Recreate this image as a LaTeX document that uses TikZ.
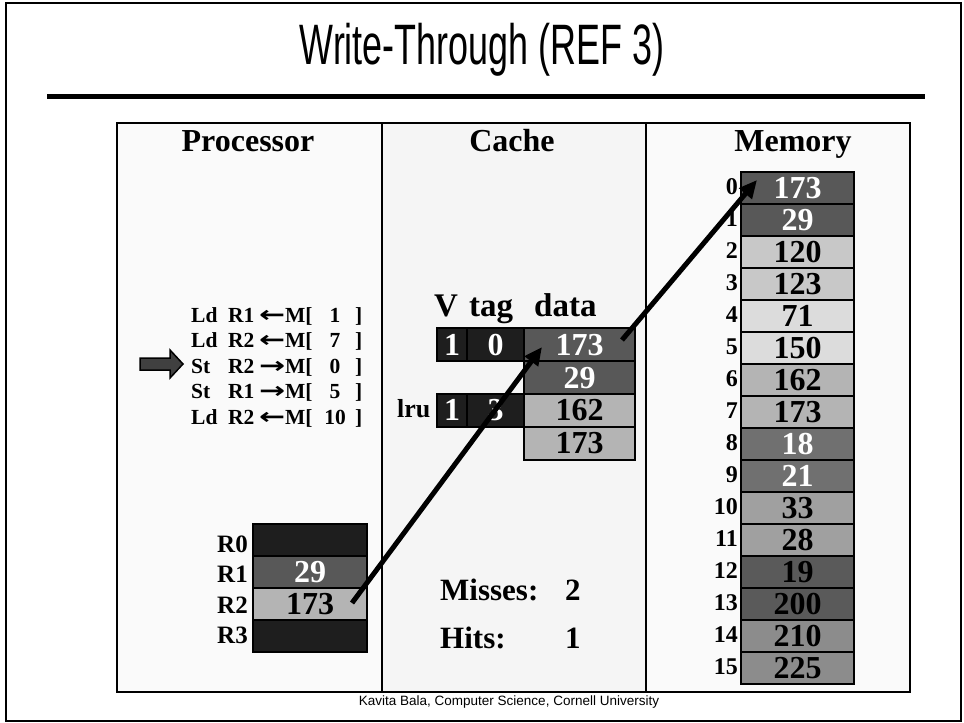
\documentclass[tikz,border=0pt]{standalone}
\usepackage{fontspec}
\setmainfont{Liberation Serif}
\newfontfamily\arialf{Liberation Sans}
\newfontfamily\symf{DejaVu Sans}
\usetikzlibrary{arrows.meta}

\definecolor{cellblack}{HTML}{1E1E1E}
\definecolor{celldark}{HTML}{585858}
\definecolor{cellmid}{HTML}{B4B4B4}
\definecolor{cellpale}{HTML}{C8C8C8}
\definecolor{celllight}{HTML}{DCDCDC}
\definecolor{cellslate}{HTML}{707070}
\definecolor{cellgrey}{HTML}{A0A0A0}
\definecolor{celldeep}{HTML}{5A5A5A}
\definecolor{cellsteel}{HTML}{8C8C8C}
\definecolor{arrowfill}{HTML}{404040}

\newcommand{\lar}{\scalebox{1.45}[1.05]{\symf\bfseries ←}}
\newcommand{\rar}{\scalebox{1.45}[1.05]{\symf\bfseries →}}

\tikzset{
  x=1pt, y=-1pt,
  cellbox/.style={draw=black, line width=2pt, inner sep=0pt,
    text height=21.5pt, text depth=0pt,
    font=\bfseries\fontsize{32}{34}\selectfont},
  memcell/.style={cellbox, minimum width=113pt, minimum height=32pt},
  cachecell/.style={cellbox, minimum height=33pt},
  regcell/.style={cellbox, minimum width=114pt, minimum height=32pt},
  addrlabel/.style={anchor=east, inner sep=0pt, text height=16.5pt, text depth=0pt,
    font=\bfseries\fontsize{24}{26}\selectfont},
  reglabel/.style={anchor=base east, inner sep=0pt,
    font=\bfseries\fontsize{25}{27}\selectfont},
  heading/.style={anchor=base, inner sep=0pt, font=\bfseries\fontsize{32}{36}\selectfont},
  instr/.style={anchor=base west, inner sep=0pt, font=\bfseries\fontsize{21.5}{24}\selectfont},
  instrnum/.style={anchor=base, inner sep=0pt, font=\bfseries\fontsize{21.5}{24}\selectfont},
  stat/.style={anchor=base west, inner sep=0pt, font=\bfseries\fontsize{31}{34}\selectfont},
  cachehead/.style={anchor=base west, inner sep=0pt, font=\bfseries\fontsize{33}{35}\selectfont},
  flow/.style={line width=5pt, -{Triangle[length=18pt,width=16pt]}},
}

\begin{document}
\begin{tikzpicture}
\useasboundingbox (0,0) rectangle (964,723);
\fill[white] (0,0) rectangle (964,723);

% slide frame, title and rule
\draw[line width=2pt] (6,3) rectangle (961,721);
\node[anchor=base, inner sep=0pt, font=\arialf\fontsize{57}{60}\selectfont] (title)
  at (482,64) {\scalebox{0.63}[1]{Write-Through (REF 3)}};
\draw[line width=5pt] (47,96.5) -- (925,96.5);

% three-column panel
\fill[white!98!black] (117,123) rectangle (382,692);
\fill[white!96!black] (382,123) rectangle (646,692);
\fill[white!98!black] (646,123) rectangle (910,692);
\draw[line width=2pt] (382,123) -- (382,692);
\draw[line width=2pt] (646,123) -- (646,692);
\draw[line width=2.5pt] (117,123) rectangle (910,692);

\node[heading] (hproc) at (248,151) {Processor};
\node[heading] (hcache) at (512,151) {Cache};
\node[heading] (hmem) at (793,151) {Memory};

% program listing
\foreach \op/\reg/\dir/\num [count=\i from 0] in
  {Ld/R1/\lar/1, Ld/R2/\lar/7, St/R2/\rar/0, St/R1/\rar/5, Ld/R2/\lar/10}{
  \pgfmathsetmacro{\yb}{322+25.6*\i}
  \node[instr] (op\i) at (191,\yb) {\op};
  \node[instr] (rg\i) at (228,\yb) {\reg};
  \node[instr] (dr\i) at (259,\yb) {\dir};
  \node[instr] (mm\i) at (285,\yb) {M[};
  \node[instrnum] (nm\i) at (335,\yb) {\num};
  \node[instr] (br\i) at (355,\yb) {]};
}
% current-instruction pointer
\draw[line width=1.5pt, fill=arrowfill]
  (140,358) -- (170,358) -- (170,350) -- (183,364) -- (170,378)
  -- (170,370) -- (140,370) -- cycle;

% cache
\node[cachehead] (hv) at (434,316) {V};
\node[cachehead] (htag) at (469,316) {tag};
\node[cachehead] (hdata) at (534,316) {data};

\node[cachecell, minimum width=30pt, fill=cellblack, text=white] (v0) at (452,344.5) {1};
\node[cachecell, minimum width=57pt, fill=cellblack, text=white] (t0) at (495.5,344.5) {0};
\node[cachecell, minimum width=111pt, fill=celldark, text=white] (d0) at (579.5,344.5) {173};
\node[cachecell, minimum width=111pt, fill=celldark, text=white] (d1) at (579.5,377.5) {29};
\node[cachecell, minimum width=30pt, fill=cellblack, text=white] (v1) at (452,410) {1};
\node[cachecell, minimum width=57pt, fill=cellblack, text=white] (t1) at (495.5,410) {3};
\node[cachecell, minimum width=111pt, fill=cellmid] (d2) at (579.5,410) {162};
\node[cachecell, minimum width=111pt, fill=cellmid] (d3) at (579.5,443) {173};
\node[anchor=base west, inner sep=0pt, font=\bfseries\fontsize{26}{28}\selectfont] (lru) at (397,417) {lru};

% registers
\node[regcell, fill=cellblack] (reg0) at (310,539.5) {};
\node[regcell, fill=celldark, text=white] (reg1) at (310,572) {29};
\node[regcell, fill=cellmid] (reg2) at (310,604) {173};
\node[regcell, fill=cellblack] (reg3) at (310,636) {};
\foreach \i in {0,...,3}{
  \node[reglabel] (rl\i) at (248,{552+30.5*\i}) {R\i};
}

% statistics
\node[stat] (misses) at (440,600) {Misses:};
\node[stat] (missn) at (565,600) {2};
\node[stat] (hits) at (440,648) {Hits:};
\node[stat] (hitn) at (565,648) {1};

% memory
\foreach \v/\c/\t [count=\i from 0] in
  {173/celldark/white, 29/celldark/white, 120/cellpale/black, 123/cellpale/black,
   71/celllight/black, 150/celllight/black, 162/cellmid/black, 173/cellmid/black,
   18/cellslate/white, 21/cellslate/white, 33/cellgrey/black, 28/cellgrey/black,
   19/celldeep/black, 200/celldeep/black, 210/cellsteel/black, 225/cellsteel/black}{
  \node[memcell, fill=\c, text=\t] (mem\i) at (797.5,{188+32*\i}) {\v};
  \node[addrlabel] (addr\i) at (738,{186+32*\i}) {\i};
}

% store path: register -> cache line -> memory word
\coordinate (srcreg) at (352,603);
\coordinate (dstcache) at (542,347);
\coordinate (srccache) at (622,340);
\coordinate (dstmem) at (757,180);
\draw[flow] (srcreg) -- (dstcache);
\draw[flow] (srccache) -- (dstmem);

% footer
\node[anchor=base, inner sep=0pt, font=\arialf\fontsize{13.5}{15}\selectfont] (footer)
  at (509,705) {Kavita Bala, Computer Science, Cornell University};
\end{tikzpicture}
\end{document}
